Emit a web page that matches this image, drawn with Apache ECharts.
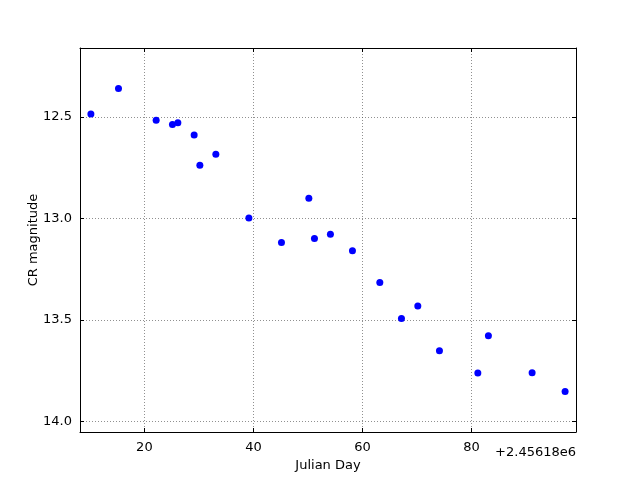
<!DOCTYPE html>
<html><head><meta charset="utf-8">
<script src="https://cdn.jsdelivr.net/npm/echarts@6/dist/echarts.min.js"></script>
<style>html,body{margin:0;padding:0;background:#fff}#c{width:640px;height:480px}</style>
</head><body><div id="c"></div>
<script>
const julianDay = [10.19,15.25,22.16,25.15,26.14,29.13,30.18,33.11,39.17,45.15,50.17,51.20,54.13,58.17,63.19,67.16,70.16,74.13,81.17,83.11,91.13,97.18];
const magnitude = [12.485,12.360,12.516,12.537,12.528,12.589,12.738,12.683,12.997,13.118,12.900,13.098,13.077,13.159,13.315,13.492,13.430,13.651,13.761,13.577,13.759,13.851];
const xTicks = [20,40,60,80];
const yTicks = [12.5,13.0,13.5,14.0];
const xOffsetText = '+2.45618e6';

const xMin = Math.min(...julianDay) - 2, xMax = Math.max(...julianDay) + 2;
const yMin = Math.min(...magnitude) - 0.2, yMax = Math.max(...magnitude) + 0.2;
const font = 'DejaVu Sans';
const grid = {type:[1,2], color:'#444', width:0.6};
const chart = echarts.init(document.getElementById('c'));
const xBase = {type:'value', min:xMin, max:xMax,
  axisLine:{show:true, onZero:false, lineStyle:{color:'#000', width:1}},
  axisTick:{show:true, inside:true, length:4, customValues:xTicks, lineStyle:{color:'#000'}},
  splitLine:{show:false}};
const yBase = {type:'value', min:yMin, max:yMax, inverse:true,
  axisLine:{show:true, onZero:false, lineStyle:{color:'#000', width:1}},
  axisTick:{show:true, inside:true, length:4, customValues:yTicks, lineStyle:{color:'#000'}},
  splitLine:{show:false}};
chart.setOption({
  animation:false,
  grid:{left:80, right:64, top:48, bottom:48},
  xAxis:[
    Object.assign({}, xBase, {position:'bottom',
      axisLabel:{customValues:xTicks, color:'#000', fontFamily:font, fontSize:13, margin:9},
      splitLine:{show:true, lineStyle:grid},
      name:'Julian Day', nameLocation:'middle', nameGap:27, nameMoveOverlap:false,
      nameTextStyle:{color:'#000', fontFamily:font, fontSize:13}}),
    Object.assign({}, xBase, {position:'top', axisLabel:{show:false}})
  ],
  yAxis:[
    Object.assign({}, yBase, {position:'left',
      axisLabel:{customValues:yTicks, color:'#000', fontFamily:font, fontSize:13, margin:8,
        formatter:v=>v.toFixed(1)},
      splitLine:{show:true, lineStyle:grid},
      name:'CR magnitude', nameLocation:'middle', nameGap:40, nameRotate:90, nameMoveOverlap:false,
      nameTextStyle:{color:'#000', fontFamily:font, fontSize:13}}),
    Object.assign({}, yBase, {position:'right', axisLabel:{show:false}})
  ],
  graphic:[{type:'text', right:64, top:446,
    style:{text:xOffsetText, fill:'#000', font:'13px "DejaVu Sans"', textAlign:'right'}}],
  series:[{type:'scatter', xAxisIndex:0, yAxisIndex:0, symbol:'circle', symbolSize:7,
    itemStyle:{color:'#0000ff', opacity:1},
    data: julianDay.map((x,i)=>[x, magnitude[i]])}]
});
</script></body></html>
